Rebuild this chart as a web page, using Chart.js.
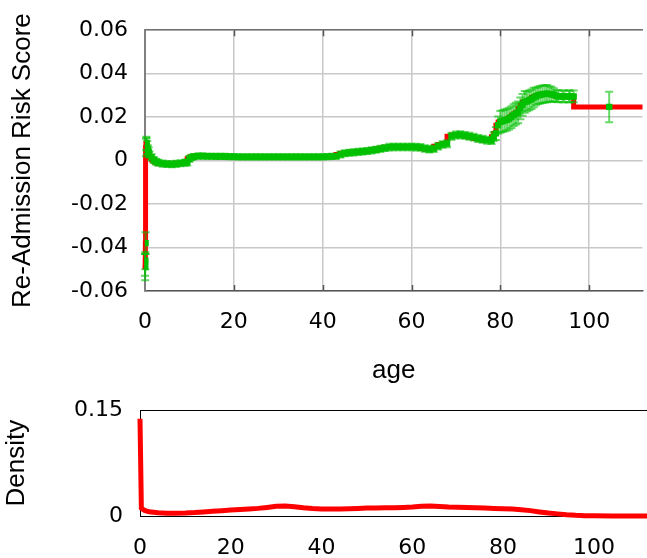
<!DOCTYPE html>
<html>
<head>
<meta charset="utf-8">
<script src="https://cdn.jsdelivr.net/npm/chart.js@4/dist/chart.umd.min.js"></script>
<style>
  html, body { margin: 0; padding: 0; background: #fff; overflow: hidden; }
  #wrap { position: relative; width: 647px; height: 558px; }
  #risk { position: absolute; left: 0; top: 0; }
  #dens { position: absolute; left: 0; top: 380px; }
</style>
</head>
<body>
<div id="wrap">
  <canvas id="risk" width="647" height="386"></canvas>
  <canvas id="dens" width="647" height="178"></canvas>
</div>
<script>
// ---- risk score by age (point estimate and half-width of its error bar) ----
const ages = [
  0, 0.04, 0.08, 0.13, 0.21, 0.29, 0.38, 0.5, 0.67, 0.83,
  1, 1.5, 2, 2.5, 3, 4, 5, 6, 7, 8, 9, 9.5,
  10, 10.5, 11, 12, 13, 14, 15, 16, 17, 18, 19, 20,
  21, 22, 23, 24, 25, 26, 27, 28, 29, 30,
  31, 32, 33, 34, 35, 36, 37, 38, 39, 40,
  41, 42, 43, 44, 45, 46, 47, 48, 49, 50,
  51, 52, 53, 54, 55, 56, 57, 58, 59, 60,
  61, 62, 63, 64, 65, 66, 67, 68, 69, 70,
  71, 72, 73, 74, 75, 76, 77, 78, 78.5, 79, 79.5, 80,
  80.5, 81, 81.5, 82, 82.5, 83, 83.5, 84, 84.5, 85, 85.5, 86, 86.5, 87, 87.5, 88, 88.5, 89, 89.5, 90,
  90.5, 91, 91.5, 92, 92.6, 93, 94, 94.4, 95.5, 95.6, 96.5, 104.5
];
const riskScores = [
  -0.048, -0.049, -0.046, -0.038, 0.006, 0.008, 0.0075, 0.006, 0.005, 0.004,
  0.0028, 0.0015, 0.0003, -0.0005, -0.001, -0.0014, -0.0016, -0.0017, -0.0015, -0.0012, -0.001, -0.0008,
  0.0008, 0.0015, 0.0018, 0.0021, 0.0021, 0.002, 0.002, 0.0019, 0.0019, 0.0019, 0.0018, 0.0018,
  0.0017, 0.0017, 0.0017, 0.0017, 0.0017, 0.0017, 0.0017, 0.0017, 0.0017, 0.0017,
  0.0017, 0.0017, 0.0017, 0.0017, 0.0017, 0.0017, 0.0017, 0.0017, 0.0017, 0.0017,
  0.0018, 0.0019, 0.002, 0.0028, 0.0034, 0.0036, 0.0038, 0.004, 0.0042, 0.0044,
  0.0047, 0.005, 0.0054, 0.0058, 0.0062, 0.0063, 0.0063, 0.0063, 0.0063, 0.0063,
  0.0062, 0.0061, 0.0056, 0.0052, 0.0055, 0.0066, 0.0074, 0.0078, 0.0112, 0.0118,
  0.0119, 0.0116, 0.0112, 0.0108, 0.0102, 0.0098, 0.0094, 0.0092, 0.011, 0.0125, 0.0163, 0.0178,
  0.0182, 0.0185, 0.0188, 0.0193, 0.0200, 0.0209, 0.0216, 0.0222, 0.0240, 0.0256, 0.027, 0.0272, 0.0277, 0.0282, 0.029, 0.0295, 0.0300, 0.0303, 0.0305, 0.0307,
  0.0308, 0.0307, 0.0305, 0.0303, 0.0298, 0.0295, 0.0295, 0.0295, 0.0295, 0.0295, 0.0295, 0.0247
];
const riskErrors = [
  0.005, 0.006, 0.004, 0.005, 0.004, 0.003, 0.003, 0.003, 0.002, 0.002,
  0.0015, 0.0014, 0.0014, 0.0014, 0.0014, 0.0014, 0.0014, 0.0014, 0.0014, 0.0014, 0.0014, 0.0014,
  0.0014, 0.0012, 0.0012, 0.0012, 0.0012, 0.0012, 0.0012, 0.0012, 0.0012, 0.0012, 0.0012, 0.0012,
  0.0012, 0.0012, 0.0012, 0.0012, 0.0012, 0.0012, 0.0012, 0.0012, 0.0012, 0.0012,
  0.0012, 0.0012, 0.0012, 0.0012, 0.0012, 0.0012, 0.0012, 0.0012, 0.0012, 0.0012,
  0.0012, 0.0012, 0.0012, 0.0014, 0.0014, 0.0014, 0.0014, 0.0014, 0.0014, 0.0014,
  0.0014, 0.0014, 0.0014, 0.0014, 0.0015, 0.0015, 0.0015, 0.0015, 0.0015, 0.0015,
  0.0015, 0.0015, 0.0015, 0.0015, 0.0015, 0.0015, 0.0015, 0.0016, 0.0016, 0.0016,
  0.0016, 0.0016, 0.0016, 0.0016, 0.0016, 0.0016, 0.0016, 0.0016, 0.002, 0.003, 0.004, 0.005,
  0.005, 0.005, 0.005, 0.005, 0.005, 0.005, 0.005, 0.005, 0.005, 0.005, 0.005, 0.0045, 0.0045, 0.0045, 0.0045, 0.004, 0.004, 0.004, 0.004, 0.004,
  0.004, 0.0035, 0.0035, 0.003, 0.0027, 0.0027, 0.0027, 0.0027, 0.0027, 0.0027, 0.0027, 0.007
];

// ---- age density ----
const densityAges = [
  0, 0.3, 1, 2, 4, 6, 8, 10, 12, 14, 16, 18, 20, 22, 24, 26, 28, 30,
  32, 34, 36, 38, 40, 42, 44, 46, 48, 50, 52, 54, 56, 58, 60, 62, 64,
  66, 68, 70, 72, 74, 76, 78, 80, 82, 84, 86, 88, 90, 92, 94, 96, 98,
  100, 104, 112
];
const densityValues = [
  0.138, 0.011, 0.008, 0.006, 0.0045, 0.004, 0.004, 0.0042, 0.0048, 0.0058, 0.0068, 0.0076, 0.0084, 0.0092, 0.0100, 0.0108, 0.0122, 0.0138,
  0.0142, 0.0132, 0.0116, 0.0106, 0.0100, 0.0098, 0.0100, 0.0104, 0.0108, 0.0112, 0.0114, 0.0116, 0.0118, 0.0122, 0.0128, 0.0138, 0.0142,
  0.0136, 0.0128, 0.0124, 0.0120, 0.0116, 0.0112, 0.0108, 0.0104, 0.0098, 0.0090, 0.0076, 0.0058, 0.0042, 0.0030, 0.0018, 0.0010, 0.0005,
  0.0002, 0.0001, 0.0
];

// ---- tick marks ----
const ageTicks = [0, 20, 40, 60, 80, 100];
const riskTicks = [-0.06, -0.04, -0.02, 0, 0.02, 0.04, 0.06];
const densityTicks = [0, 0.15];

const AGE_MAX_TOP = 112;
const AGE_MAX_BOTTOM = 111.7;

const tickFont = { family: 'DejaVu Sans', size: 22 };
const titleFont = { family: 'Liberation Sans', size: 26 };

const fmt = v => (v === 0 ? '0' : v.toFixed(2));
const setTicks = list => scale => { scale.ticks = list.map(v => ({ value: v })); };

// short tick marks pointing into the plot from the top and bottom frame
const innerTicks = {
  id: 'innerTicks',
  afterDraw(chart, args, opts) {
    const { ctx, chartArea: { top, bottom }, scales: { x } } = chart;
    ctx.save();
    ctx.strokeStyle = opts.color;
    ctx.lineWidth = opts.width;
    x.ticks.forEach(t => {
      const px = Math.round(x.getPixelForValue(t.value)) + 0.5;
      if (px <= chart.chartArea.left + 1) return;
      ctx.beginPath();
      ctx.moveTo(px, top);
      ctx.lineTo(px, top + opts.length);
      ctx.moveTo(px, bottom);
      ctx.lineTo(px, bottom - opts.length);
      ctx.stroke();
    });
    ctx.restore();
  }
};

// vertical error bars with caps, drawn above the step line and below the markers
const errorBars = {
  id: 'errorBars',
  beforeDatasetDraw(chart, args) {
    if (args.index !== 0) return;
    const { ctx, scales: { x, y } } = chart;
    ctx.save();
    ctx.strokeStyle = 'rgba(0,192,0,0.6)';
    ctx.lineWidth = 2;
    ages.forEach((a, i) => {
      const px = x.getPixelForValue(a);
      const y1 = y.getPixelForValue(riskScores[i] + riskErrors[i]);
      const y2 = y.getPixelForValue(riskScores[i] - riskErrors[i]);
      ctx.beginPath();
      ctx.moveTo(px, y1); ctx.lineTo(px, y2);
      ctx.moveTo(px - 4, y1); ctx.lineTo(px + 4, y1);
      ctx.moveTo(px - 4, y2); ctx.lineTo(px + 4, y2);
      ctx.stroke();
    });
    ctx.restore();
  }
};

const riskPoints = ages.map((a, i) => ({ x: a, y: riskScores[i] }));
const riskStep = riskPoints.concat([{ x: AGE_MAX_TOP, y: riskScores[riskScores.length - 1] }]);

new Chart(document.getElementById('risk'), {
  type: 'scatter',
  data: {
    datasets: [
      {
        data: riskPoints,
        showLine: false,
        pointStyle: 'rect',
        pointRadius: 4.5,
        pointBorderWidth: 0,
        backgroundColor: '#00c000',
        borderColor: '#00c000'
      },
      {
        data: riskStep,
        showLine: true,
        stepped: 'after',
        borderColor: '#ff0000',
        borderWidth: 5,
        pointRadius: 0,
        clip: false
      }
    ]
  },
  options: {
    responsive: false,
    animation: false,
    events: [],
    layout: { padding: { top: 27, right: 0, bottom: 0, left: 0 } },
    plugins: {
      legend: { display: false },
      tooltip: { enabled: false },
      innerTicks: { color: '#555', width: 1.5, length: 6 }
    },
    scales: {
      x: {
        type: 'linear', position: 'bottom', min: 0, max: AGE_MAX_TOP,
        afterBuildTicks: setTicks(ageTicks),
        afterFit: s => { s.height = 95; },
        grid: { color: '#c8c8c8', lineWidth: 1.5, drawTicks: false },
        border: { display: true, color: '#555', width: 1.5 },
        ticks: { font: tickFont, color: '#000', padding: 18, maxRotation: 0, autoSkip: false },
        title: { display: true, text: 'age', font: titleFont, color: '#000', padding: { top: 0, bottom: 0 } }
      },
      xTop: {
        type: 'linear', position: 'top', min: 0, max: AGE_MAX_TOP,
        afterFit: s => { s.height = 0; },
        grid: { display: false, drawTicks: false },
        ticks: { display: false },
        border: { display: true, color: '#707070', width: 1.5 }
      },
      y: {
        type: 'linear', position: 'left', min: -0.06, max: 0.06,
        afterBuildTicks: setTicks(riskTicks),
        afterFit: s => { s.width = 145; },
        grid: { color: '#c8c8c8', lineWidth: 1.5, drawTicks: false },
        border: { display: true, color: '#808080', width: 2 },
        ticks: { font: tickFont, color: '#000', padding: 17, callback: v => fmt(v) },
        title: { display: true, text: 'Re-Admission Risk Score', font: titleFont, color: '#000', padding: { top: 7, bottom: 0 } }
      }
    }
  },
  plugins: [errorBars, innerTicks]
});

new Chart(document.getElementById('dens'), {
  type: 'scatter',
  data: {
    datasets: [
      {
        data: densityAges.map((a, i) => ({ x: a, y: densityValues[i] })),
        showLine: true,
        borderColor: '#ff0000',
        borderWidth: 5,
        pointRadius: 0,
        clip: false
      }
    ]
  },
  options: {
    responsive: false,
    animation: false,
    events: [],
    layout: { padding: { top: 20, right: 0, bottom: 0, left: 0 } },
    plugins: {
      legend: { display: false },
      tooltip: { enabled: false },
      innerTicks: { color: '#000', width: 1, length: 6 }
    },
    scales: {
      x: {
        type: 'linear', position: 'bottom', min: 0, max: AGE_MAX_BOTTOM,
        afterBuildTicks: setTicks(ageTicks),
        afterFit: s => { s.height = 42; },
        grid: { display: false, drawTicks: false },
        border: { display: true, color: '#000', width: 1 },
        ticks: { font: tickFont, color: '#000', padding: 19, maxRotation: 0, autoSkip: false }
      },
      xTop: {
        type: 'linear', position: 'top', min: 0, max: AGE_MAX_BOTTOM,
        afterFit: s => { s.height = 0; },
        grid: { display: false, drawTicks: false },
        ticks: { display: false },
        border: { display: true, color: '#000', width: 1 }
      },
      y: {
        type: 'linear', position: 'left', min: 0, max: 0.15,
        afterBuildTicks: setTicks(densityTicks),
        afterFit: s => { s.width = 140; },
        grid: { display: false, drawTicks: false },
        border: { display: true, color: '#000', width: 1 },
        ticks: { font: tickFont, color: '#000', padding: 17, callback: v => fmt(v) },
        title: { display: true, text: 'Density', font: titleFont, color: '#000', padding: { top: 1.5, bottom: 0 } }
      }
    }
  }
});
</script>
</body>
</html>
